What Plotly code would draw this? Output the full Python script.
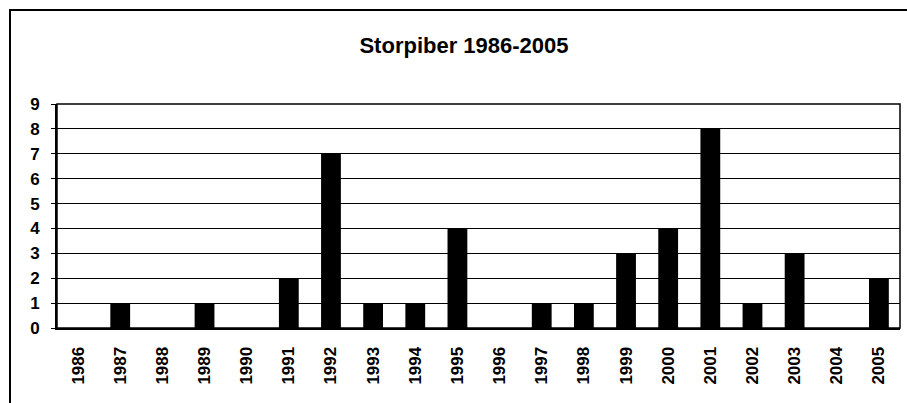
import plotly.graph_objects as go

years = [str(y) for y in range(1986, 2006)]
counts = [0, 1, 0, 1, 0, 2, 7, 1, 1, 4, 0, 1, 1, 3, 4, 8, 1, 3, 0, 2]
title_text = "Storpiber 1986-2005"
y_ticks = list(range(0, 10))

W, H = 907, 403
L, R, T, B = 57, 7, 104, 75
pw, ph = W - L - R, H - T - B

def px_x(x):
    return (x - L) / pw

def px_y(y):
    return 1 - (y - T) / ph

fig = go.Figure(go.Bar(x=years, y=counts, marker=dict(color="black", line=dict(width=0)), width=0.47))

fig.update_layout(
    width=W, height=H,
    margin=dict(l=L, r=R, t=T, b=B, autoexpand=False),
    paper_bgcolor="white", plot_bgcolor="white",
    showlegend=False,
    font=dict(family="Liberation Sans, Arial", color="black"),
    title=dict(text="<b>" + title_text + "</b>", x=px_x(464), xref="paper", xanchor="center",
               y=1 - 45 / H, yanchor="middle", font=dict(size=22)),
    bargap=0.53,
)
fig.update_xaxes(type="category", tickangle=-90, tickfont=dict(size=17, family="Liberation Sans, Arial"),
                 ticktext=[f"<b>{y}</b>" for y in years], tickvals=years,
                 showline=True, linecolor="black", linewidth=2, mirror=False, ticks="", showgrid=False,
                 automargin=False, ticklabelstandoff=10)
fig.update_yaxes(range=[0, 9], tickvals=y_ticks, ticktext=[f"<b>{v}</b>" for v in y_ticks],
                 tickfont=dict(size=17), showgrid=True, gridcolor="black", gridwidth=1,
                 showline=True, linecolor="black", linewidth=2, ticks="outside", ticklen=4,
                 tickcolor="black", zeroline=False, automargin=False, ticklabelstandoff=8)

# plot-area border (top & right)
fig.add_shape(type="rect", xref="paper", yref="paper", x0=0, y0=0, x1=1, y1=1,
              line=dict(color="black", width=1.5))
# outer chart frame
fig.add_shape(type="rect", xref="paper", yref="paper",
              x0=px_x(10), y0=px_y(410), x1=px_x(912), y1=px_y(10),
              line=dict(color="black", width=2))

fig.write_html("out.html", config={"displayModeBar": False},
               post_script="document.body.style.margin='0';document.body.style.overflow='hidden';")
